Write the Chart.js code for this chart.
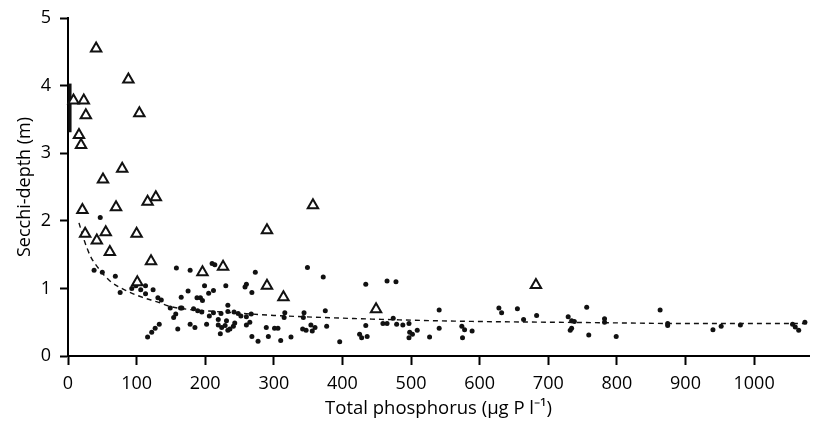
<!DOCTYPE html>
<html><head><meta charset="utf-8">
<script src="https://cdn.jsdelivr.net/npm/chart.js@4/dist/chart.umd.min.js"></script>
<style>html,body{margin:0;padding:0;background:#fff}#wrap{width:817px;height:423px;position:relative}</style>
</head><body><div id="wrap"><canvas id="c" width="817" height="423"></canvas></div>
<script>
// ---- data ----
const triX = [41, 88, 8, 23, 26, 104, 16, 19, 79, 51,
  128, 116, 70, 21, 25, 55, 100, 42, 61, 121, 101,
  357, 290, 196, 226, 290, 314, 449, 682];
const triY = [4.55, 4.09, 3.78, 3.78, 3.56, 3.59, 3.27, 3.12, 2.77, 2.61,
  2.35, 2.28, 2.20, 2.16, 1.81, 1.83, 1.81, 1.71, 1.54, 1.40, 1.09,
  2.23, 1.86, 1.24, 1.32, 1.04, 0.87, 0.69, 1.05];

const dotX = [47, 38, 50, 69, 76, 93, 99, 106, 113, 113, 124, 131, 136, 149, 157, 164, 154, 160, 133, 127, 122, 116,
  158, 178, 175, 165, 188, 178, 185, 189,
  166, 183, 195, 210, 214, 273, 349, 372, 434, 465, 478, 199, 212, 205, 230, 260, 258, 268, 193, 196,
  233, 206, 212, 223, 233, 242, 248, 252, 260, 267, 265, 219, 219, 224, 231, 229, 236, 233, 241, 243, 202, 222, 260,
  268, 277, 289, 301, 306, 292, 310, 325, 316, 315, 344, 343, 375, 354, 360, 356, 347, 342, 377, 396, 425, 428, 436, 434, 474,
  459, 465, 479, 488, 497, 498, 502, 509, 497, 541, 541, 527, 574, 578, 589, 575, 628, 632, 655, 664, 683,
  729, 734, 738, 732, 734, 756, 759, 782, 782, 799,
  863, 874, 874, 940, 952, 980, 1056, 1060, 1065, 1074];
const dotY = [2.05, 1.27, 1.24, 1.18, 0.94, 1.00, 1.04, 0.98, 0.92, 1.04, 0.98, 0.86, 0.83, 0.71, 0.62, 0.71, 0.57, 0.40, 0.47, 0.41, 0.35, 0.28,
  1.30, 1.27, 0.96, 0.87, 0.86, 0.47, 0.42, 0.67,
  0.71, 0.70, 0.65, 1.37, 1.35, 1.24, 1.31, 1.17, 1.06, 1.11, 1.10, 1.04, 0.97, 0.93, 1.04, 1.06, 1.02, 0.94, 0.86, 0.82,
  0.75, 0.59, 0.64, 0.63, 0.66, 0.65, 0.63, 0.59, 0.58, 0.62, 0.50, 0.54, 0.46, 0.42, 0.52, 0.45, 0.40, 0.38, 0.44, 0.49, 0.47, 0.33, 0.46,
  0.29, 0.22, 0.42, 0.41, 0.41, 0.29, 0.23, 0.28, 0.64, 0.57, 0.64, 0.57, 0.67, 0.46, 0.42, 0.37, 0.38, 0.40, 0.44, 0.21, 0.32, 0.27, 0.29, 0.45, 0.56,
  0.48, 0.48, 0.47, 0.46, 0.48, 0.35, 0.32, 0.38, 0.27, 0.68, 0.41, 0.28, 0.44, 0.39, 0.37, 0.27, 0.71, 0.64, 0.70, 0.54, 0.60,
  0.58, 0.52, 0.51, 0.38, 0.41, 0.72, 0.31, 0.55, 0.50, 0.29,
  0.68, 0.45, 0.48, 0.39, 0.44, 0.46, 0.47, 0.43, 0.38, 0.50];

const fitX = [16, 24, 33, 42, 60, 84, 108, 130, 150, 175, 200, 240, 300, 400, 500, 600, 700, 800, 900, 1000, 1080];
const fitY = [1.97, 1.70, 1.47, 1.33, 1.12, 0.97, 0.87, 0.80, 0.73, 0.69, 0.67, 0.64, 0.60, 0.56, 0.53, 0.51, 0.50, 0.49, 0.48, 0.48, 0.48];

const markX = [3, 3];
const markY = [3.31, 4.03];

const xTicks = [0, 100, 200, 300, 400, 500, 600, 700, 800, 900, 1000];
const yTicks = [0, 1, 2, 3, 4, 5];
const xTitle = 'Total phosphorus (\u00B5g P l\u207B\u00B9)';
const yTitle = 'Secchi-depth (m)';

// ---- chart ----
const pts = (xs, ys) => xs.map((x, i) => ({x: x, y: ys[i]}));
const FONT = '"Open Sans", "Liberation Sans", sans-serif';
const ink = '#111';

new Chart(document.getElementById('c'), {
  type: 'scatter',
  data: {
    datasets: [
      {data: pts(triX, triY), pointStyle: 'triangle', pointRadius: 6, pointBorderWidth: 2,
       pointBackgroundColor: '#fff', pointBorderColor: ink, clip: false},
      {data: pts(dotX, dotY), pointStyle: 'circle', pointRadius: 2.5, pointBorderWidth: 0,
       pointBackgroundColor: ink, clip: false},
      {data: pts(fitX, fitY), showLine: true, pointRadius: 0, borderColor: ink, borderWidth: 1.4,
       borderDash: [5, 4], cubicInterpolationMode: 'monotone', fill: false, clip: false},
      {data: pts(markX, markY), showLine: true, pointRadius: 0, borderColor: ink, borderWidth: 3, clip: false}
    ]
  },
  options: {
    responsive: false, animation: false, devicePixelRatio: 1,
    layout: {padding: {top: 10, right: 0, left: 0, bottom: 0}},
    plugins: {legend: {display: false}, tooltip: {enabled: false}},
    scales: {
      x: {
        type: 'linear', min: 0, max: 1080,
        afterBuildTicks: s => { s.ticks = xTicks.map(v => ({value: v})); },
        afterFit: s => { s.height = 67; },
        ticks: {font: {family: FONT, size: 18, lineHeight: 1}, color: '#000', padding: 10, maxRotation: 0,
                includeBounds: false, callback: v => String(v)},
        grid: {display: true, drawOnChartArea: false, drawTicks: true, tickLength: 9, tickWidth: 2, color: '#000'},
        border: {display: true, width: 2, color: '#000'},
        title: {display: true, text: xTitle, color: '#000', font: {family: FONT, size: 18.5}, padding: {top: 0, bottom: 3}}
      },
      y: {
        type: 'linear', min: 0, max: 5,
        afterBuildTicks: s => { s.ticks = yTicks.map(v => ({value: v})); },
        afterFit: s => { s.width = 68; },
        ticks: {font: {family: FONT, size: 18, lineHeight: 1}, color: '#000', padding: 9, callback: v => String(v)},
        grid: {display: true, drawOnChartArea: false, drawTicks: true, tickLength: 8, tickWidth: 2, color: '#000'},
        border: {display: true, width: 2, color: '#000'},
        title: {display: true, text: yTitle, color: '#000', font: {family: FONT, size: 18}, padding: {top: 14, bottom: 0}}
      }
    }
  }
});
</script></body></html>
